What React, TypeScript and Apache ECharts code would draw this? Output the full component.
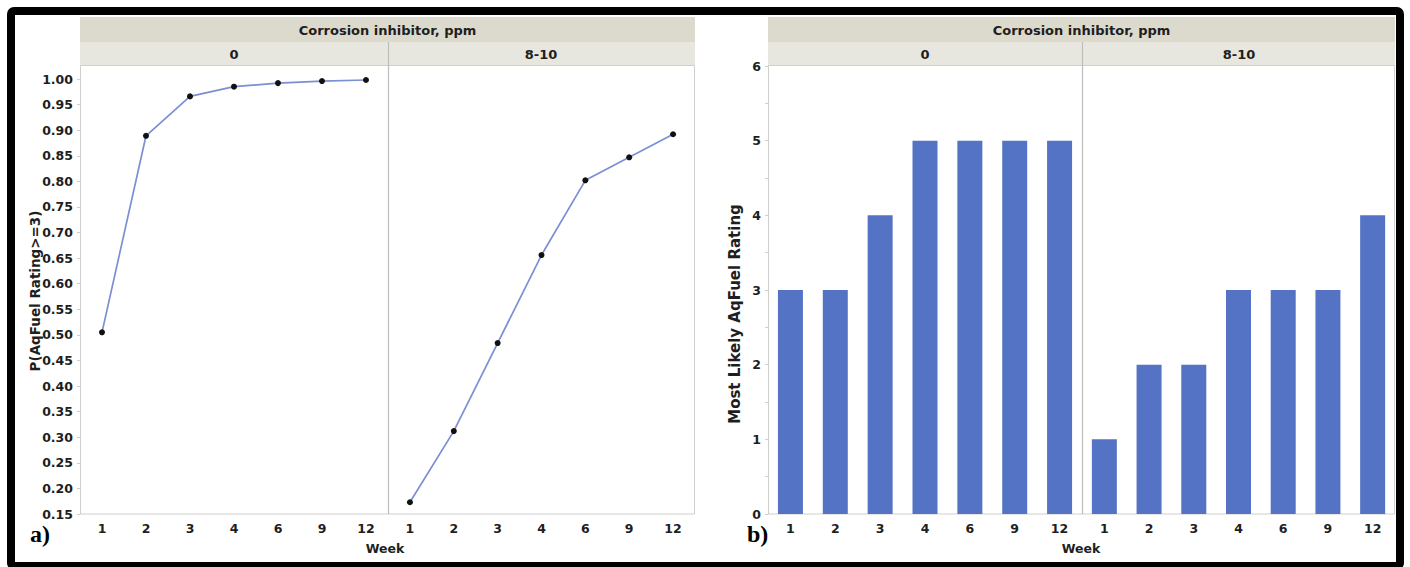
import React, { useEffect, useRef } from "react";
import * as echarts from "echarts";

const weeks = ["1", "2", "3", "4", "6", "9", "12"];
const probNone = [0.505, 0.889, 0.966, 0.985, 0.992, 0.996, 0.998];
const probInhib = [0.173, 0.312, 0.484, 0.656, 0.802, 0.847, 0.892];
const ratingNone = [3, 3, 4, 5, 5, 5, 5];
const ratingInhib = [1, 2, 2, 3, 3, 3, 4];
const probTicks = { min: 0.15, max: 1.0, interval: 0.05 };
const ratingTicks = { min: 0, max: 6, interval: 1 };

const FONT = "'DejaVu Sans', 'Noto Sans', sans-serif";
const TXT = "#1e1e1e";
const AX = "#cfcfcf";

export default function App() {
  const ref = useRef<HTMLDivElement>(null);
  useEffect(() => {
    if (!ref.current) return;
    const chart = echarts.init(ref.current, undefined, { renderer: "svg" });

    const grids = [
      { left: 80, width: 308, top: 79, height: 435 },
      { left: 388, width: 307, top: 79, height: 435 },
      { left: 768, width: 314, top: 66, height: 448 },
      { left: 1082, width: 313, top: 66, height: 448 },
    ];

    const xAxisBase = (gi: number) => ({
      type: "category",
      gridIndex: gi,
      data: weeks,
      boundaryGap: true,
      axisLine: { show: false },
      axisTick: { show: false },
      axisLabel: { color: TXT, fontFamily: FONT, fontWeight: "bold", fontSize: 12.5, margin: 8 },
    });

    const yAxisBase = (gi: number, t: any, showLabels: boolean, minor: boolean) => ({
      type: "value",
      gridIndex: gi,
      min: t.min,
      max: t.max,
      interval: t.interval,
      splitLine: { show: false },
      axisLine: { show: showLabels, lineStyle: { color: AX } },
      axisTick: { show: showLabels, length: 3, lineStyle: { color: AX } },
      minorTick: { show: showLabels && minor, splitNumber: 2, length: 3, lineStyle: { color: AX } },
      axisLabel: {
        show: showLabels,
        color: TXT,
        fontFamily: FONT,
        fontWeight: "bold",
        fontSize: 12.5,
        margin: 7,
        formatter: (v: number) => (t.interval < 1 ? v.toFixed(2) : String(v)),
      },
    });

    const headerText = (text: string, x: number, y: number) => ({
      type: "text",
      x,
      y,
      style: {
        text,
        align: "center",
        verticalAlign: "middle",
        fill: TXT,
        font: `bold 13px ${FONT}`,
      },
    });

    const panelGraphics = (left: number, width: number, divider: number, c0: number, c1: number) => [
      { type: "rect", shape: { x: left, y: 17, width, height: 25 }, style: { fill: "#dcdacc" } },
      { type: "rect", shape: { x: left, y: 42, width, height: 23 }, style: { fill: "#e8e7df" } },
      headerText("Corrosion inhibitor, ppm", left + width / 2, 30),
      headerText("0", c0, 54),
      headerText("8-10", c1, 54),
      {
        type: "rect",
        shape: { x: left + 0.5, y: 65.5, width: width - 1, height: 448.5 },
        style: { fill: "none", stroke: AX, lineWidth: 1 },
      },
      {
        type: "line",
        shape: { x1: divider + 0.5, y1: 42, x2: divider + 0.5, y2: 514 },
        style: { stroke: "#bdbdbd", lineWidth: 1.2 },
      },
    ];

    const option: any = {
      animation: false,
      backgroundColor: "#ffffff",
      grid: grids.map((g) => ({ ...g, containLabel: false })),
      xAxis: [xAxisBase(0), xAxisBase(1), xAxisBase(2), xAxisBase(3)],
      yAxis: [
        yAxisBase(0, probTicks, true, false),
        yAxisBase(1, probTicks, false, false),
        yAxisBase(2, ratingTicks, true, true),
        yAxisBase(3, ratingTicks, false, true),
      ],
      series: [
        {
          type: "line",
          xAxisIndex: 0,
          yAxisIndex: 0,
          data: probNone,
          symbol: "circle",
          symbolSize: 6,
          lineStyle: { color: "#7b8fd2", width: 1.7 },
          itemStyle: { color: "#111" },
          z: 5,
        },
        {
          type: "line",
          xAxisIndex: 1,
          yAxisIndex: 1,
          data: probInhib,
          symbol: "circle",
          symbolSize: 6,
          lineStyle: { color: "#7b8fd2", width: 1.7 },
          itemStyle: { color: "#111" },
          z: 5,
        },
        {
          type: "bar",
          xAxisIndex: 2,
          yAxisIndex: 2,
          data: ratingNone,
          barWidth: 25,
          itemStyle: { color: "#5573c5" },
        },
        {
          type: "bar",
          xAxisIndex: 3,
          yAxisIndex: 3,
          data: ratingInhib,
          barWidth: 25,
          itemStyle: { color: "#5573c5" },
        },
      ],
      graphic: [
        ...panelGraphics(80, 615, 388, 234, 541),
        ...panelGraphics(768, 627, 1082, 925, 1239),
        {
          type: "text",
          x: 35,
          y: 291,
          rotation: Math.PI / 2,
          style: {
            text: "P(AqFuel Rating>=3)",
            align: "center",
            verticalAlign: "middle",
            fill: TXT,
            font: `bold 13.5px ${FONT}`,
          },
        },
        {
          type: "text",
          x: 735,
          y: 314,
          rotation: Math.PI / 2,
          style: {
            text: "Most Likely AqFuel Rating",
            align: "center",
            verticalAlign: "middle",
            fill: TXT,
            font: `bold 15px ${FONT}`,
          },
        },
        {
          type: "text",
          x: 385,
          y: 548,
          style: { text: "Week", align: "center", verticalAlign: "middle", fill: TXT, font: `bold 12.5px ${FONT}` },
        },
        {
          type: "text",
          x: 1081,
          y: 548,
          style: { text: "Week", align: "center", verticalAlign: "middle", fill: TXT, font: `bold 12.5px ${FONT}` },
        },
        {
          type: "text",
          x: 30,
          y: 534,
          style: {
            text: "a)",
            align: "left",
            verticalAlign: "middle",
            fill: "#000",
            font: "bold 24px 'Liberation Serif', 'DejaVu Serif', serif",
          },
        },
        {
          type: "text",
          x: 747,
          y: 534,
          style: {
            text: "b)",
            align: "left",
            verticalAlign: "middle",
            fill: "#000",
            font: "bold 24px 'Liberation Serif', 'DejaVu Serif', serif",
          },
        },
        {
          type: "rect",
          shape: { x: 11, y: 11, width: 1389, height: 555, r: 3 },
          style: { fill: "none", stroke: "#000", lineWidth: 8 },
        },
      ],
    };

    chart.setOption(option);
    return () => chart.dispose();
  }, []);

  return (
    <div
      ref={ref}
      style={{ position: "fixed", left: 0, top: 0, width: 1410, height: 567, background: "#fff" }}
    />
  );
}
